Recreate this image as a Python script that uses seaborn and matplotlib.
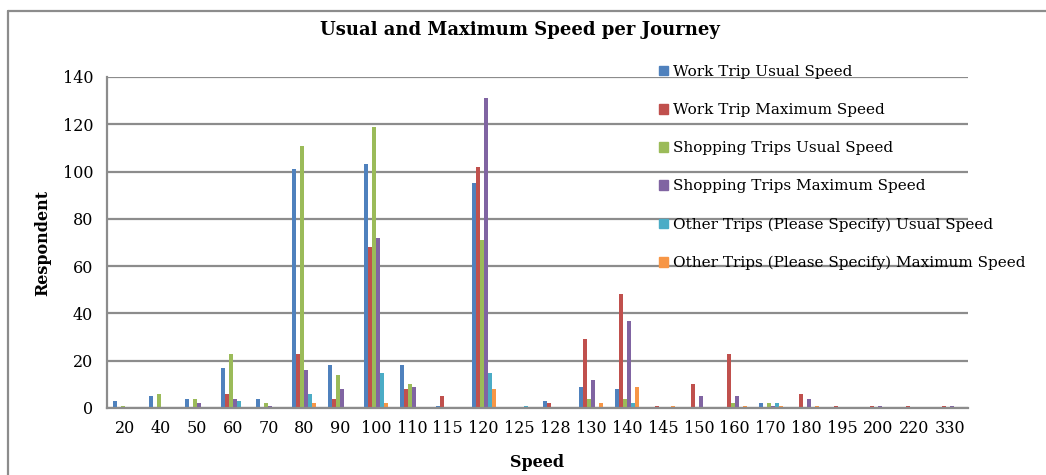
import numpy as np
import pandas as pd
import seaborn as sns
import matplotlib.pyplot as plt
from matplotlib.lines import Line2D

speeds = ["20", "40", "50", "60", "70", "80", "90", "100", "110", "115", "120", "125",
          "128", "130", "140", "145", "150", "160", "170", "180", "195", "200", "220", "330"]

work_usual    = [3, 5, 4, 17, 4, 101, 18, 103, 18, 1, 95, 0, 3, 9, 8, 0, 0, 0, 2, 0, 0, 0, 0, 0]
work_max      = [0, 0, 0, 6, 0, 23, 4, 68, 8, 5, 102, 0, 2, 29, 48, 1, 10, 23, 0, 6, 1, 1, 1, 1]
shop_usual    = [1, 6, 4, 23, 2, 111, 14, 119, 10, 0, 71, 0, 0, 4, 4, 0, 0, 2, 2, 0, 0, 0, 0, 0]
shop_max      = [0, 0, 2, 4, 1, 16, 8, 72, 9, 0, 131, 0, 0, 12, 37, 0, 5, 5, 1, 4, 0, 1, 0, 1]
other_usual   = [0, 0, 0, 3, 0, 6, 0, 15, 0, 0, 15, 1, 0, 0, 2, 0, 0, 0, 2, 0, 0, 0, 0, 0]
other_max     = [0, 0, 0, 0, 0, 2, 0, 2, 0, 0, 8, 0, 0, 2, 9, 1, 0, 1, 1, 1, 0, 0, 0, 0]

series = ["Work Trip Usual Speed", "Work Trip Maximum Speed", "Shopping Trips Usual Speed",
          "Shopping Trips Maximum Speed", "Other Trips (Please Specify) Usual Speed",
          "Other Trips (Please Specify) Maximum Speed"]
colors = ["#4F81BD", "#C0504D", "#9BBB59", "#8064A2", "#4BACC6", "#F79646"]

values = [work_usual, work_max, shop_usual, shop_max, other_usual, other_max]
rows = []
for name, vals in zip(series, values):
    for s, v in zip(speeds, vals):
        rows.append({"Speed": s, "Series": name, "Respondent": v})
df = pd.DataFrame(rows)

sns.set_style("white")
plt.rcParams['font.family'] = ['DejaVu Serif']
plt.rcParams['text.color'] = 'black'
plt.rcParams['axes.labelcolor'] = 'black'
plt.rcParams['xtick.labelcolor'] = 'black'
plt.rcParams['ytick.labelcolor'] = 'black'

fig = plt.figure(figsize=(10.46, 4.75), dpi=100)
ax = fig.add_axes([0.1023, 0.1411, 0.8231, 0.6968])

sns.barplot(data=df, x="Speed", y="Respondent", hue="Series", order=speeds,
            hue_order=series, palette=colors, width=0.67, ax=ax, legend=False,
            saturation=1, linewidth=0, edgecolor="none")

ax.set_ylim(0, 140)
ax.set_xlim(-0.5, len(speeds) - 0.5)
ax.set_yticks(range(0, 141, 20))
ax.yaxis.grid(True, color="#8c8c8c", linewidth=1.6)
ax.set_axisbelow(True)
for side in ["top", "right"]:
    ax.spines[side].set_visible(False)
for side in ["left", "bottom"]:
    ax.spines[side].set_color("#8c8c8c")
    ax.spines[side].set_linewidth(1.6)

ax.set_xticks(np.arange(len(speeds)))
ax.set_xticklabels(speeds, fontsize=11.5)
ax.set_xticks(np.arange(-0.5, len(speeds)), minor=True)
ax.tick_params(axis="x", which="major", length=0, pad=9)
ax.tick_params(axis="x", which="minor", length=5, width=1.6, color="#8c8c8c", direction="out")
ax.tick_params(axis="y", length=5, width=1.6, color="#8c8c8c", direction="out", labelsize=11.5, pad=5)

ax.set_xlabel("Speed", fontsize=11.5, fontweight="bold", labelpad=12)
ax.set_ylabel("Respondent", fontsize=11.5, fontweight="bold", labelpad=8)
fig.suptitle("Usual and Maximum Speed per Journey", fontsize=13, fontweight="bold",
             x=0.497, y=0.955)

handles = [plt.Rectangle((0, 0), 1, 1, color=c) for c in colors]
fig.legend(handles, series, loc="upper left", bbox_to_anchor=(0.624, 0.876),
           frameon=False, fontsize=11, handlelength=0.6, handleheight=0.6,
           handletextpad=0.35, labelspacing=1.58, borderaxespad=0)

fig.add_artist(Line2D([8 / 1046, 8 / 1046], [0, 1 - 11 / 475], transform=fig.transFigure,
                      color="#8c8c8c", linewidth=1.6))
fig.add_artist(Line2D([8 / 1046, 1.0], [1 - 11 / 475, 1 - 11 / 475], transform=fig.transFigure,
                      color="#8c8c8c", linewidth=1.6))

plt.savefig("out.png", dpi=100)
